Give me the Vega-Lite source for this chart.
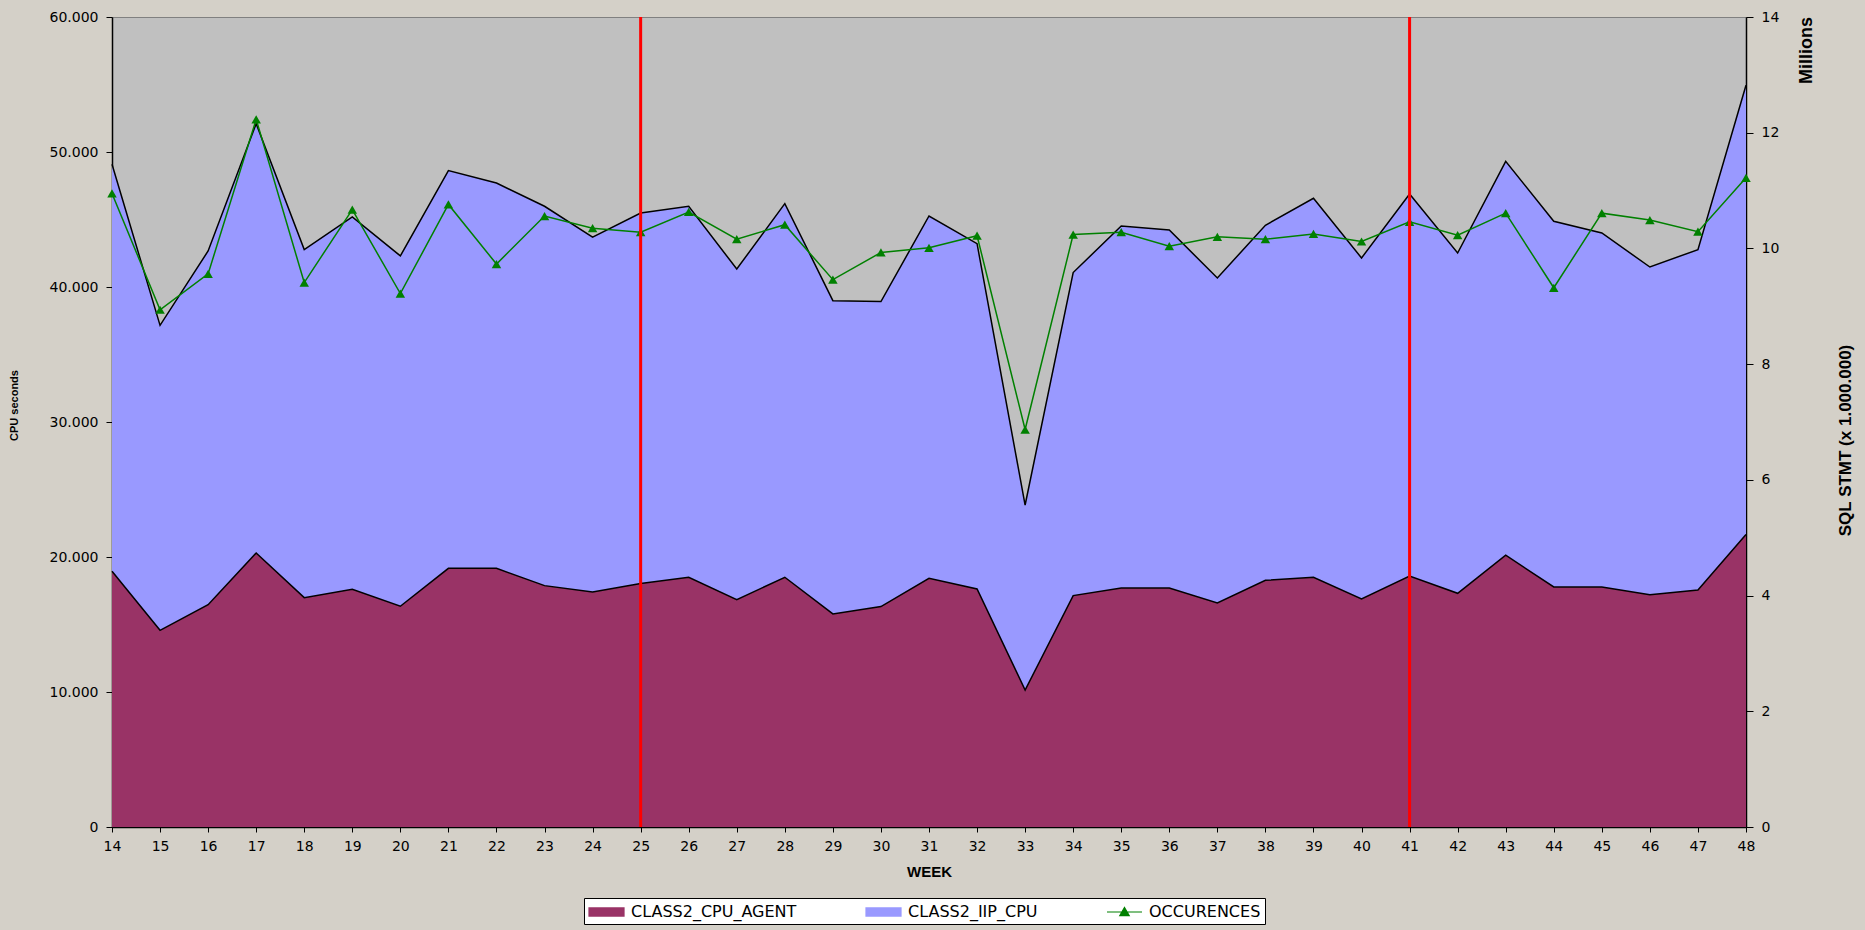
{
  "$schema": "https://vega.github.io/schema/vega-lite/v6.json",
  "width": 1634,
  "height": 810,
  "autosize": {"type": "none"},
  "padding": {"left": 112, "top": 17, "right": 119, "bottom": 103},
  "background": "#D4D0C8",
  "config": {
    "locale": {"number": {"decimal": ",", "thousands": ".", "grouping": [3], "currency": ["", ""]}},
    "view": {"fill": "#C0C0C0", "stroke": "#808080", "strokeWidth": 1},
    "axis": {"grid": false, "domainColor": "#000000", "domainWidth": 1.5, "tickColor": "#000000", "labelColor": "#000000", "labelFont": "DejaVu Sans", "labelFontSize": 14, "titleFont": "Liberation Sans", "titleFontWeight": "bold", "titleColor": "#000000"},
    "legend": {"title": null, "orient": "none", "legendX": 472, "legendY": 881, "direction": "horizontal", "fillColor": "#FFFFFF", "strokeColor": "#000000", "padding": 4,
      "labelFont": "DejaVu Sans", "labelFontSize": 16, "labelColor": "#000000", "labelOffset": 23, "labelLimit": 400, "columnPadding": 66,
      "symbolSize": 324, "symbolType": "M-1,-0.45H2.89V0.45H-1Z", "symbolStrokeColor": "#000000", "symbolStrokeWidth": 1.2}
  },
  "title": {"text": "Millions", "orient": "right", "anchor": "start", "frame": "group", "angle": 270, "align": "right", "baseline": "middle", "offset": -65, "font": "Liberation Sans", "fontSize": 18, "fontWeight": "bold", "color": "#000000"},
  "datasets": {
    "main": [
      {"WEEK": 14, "CLASS2_CPU_AGENT": 18940, "CLASS2_IIP_CPU": 30150, "OCCURENCES": 10.95},
      {"WEEK": 15, "CLASS2_CPU_AGENT": 14570, "CLASS2_IIP_CPU": 22590, "OCCURENCES": 8.94},
      {"WEEK": 16, "CLASS2_CPU_AGENT": 16470, "CLASS2_IIP_CPU": 26200, "OCCURENCES": 9.56},
      {"WEEK": 17, "CLASS2_CPU_AGENT": 20300, "CLASS2_IIP_CPU": 31800, "OCCURENCES": 12.23},
      {"WEEK": 18, "CLASS2_CPU_AGENT": 16990, "CLASS2_IIP_CPU": 25780, "OCCURENCES": 9.41},
      {"WEEK": 19, "CLASS2_CPU_AGENT": 17610, "CLASS2_IIP_CPU": 27580, "OCCURENCES": 10.67},
      {"WEEK": 20, "CLASS2_CPU_AGENT": 16350, "CLASS2_IIP_CPU": 25950, "OCCURENCES": 9.22},
      {"WEEK": 21, "CLASS2_CPU_AGENT": 19160, "CLASS2_IIP_CPU": 29460, "OCCURENCES": 10.76},
      {"WEEK": 22, "CLASS2_CPU_AGENT": 19160, "CLASS2_IIP_CPU": 28540, "OCCURENCES": 9.73},
      {"WEEK": 23, "CLASS2_CPU_AGENT": 17880, "CLASS2_IIP_CPU": 28100, "OCCURENCES": 10.56},
      {"WEEK": 24, "CLASS2_CPU_AGENT": 17410, "CLASS2_IIP_CPU": 26290, "OCCURENCES": 10.35},
      {"WEEK": 25, "CLASS2_CPU_AGENT": 18030, "CLASS2_IIP_CPU": 27450, "OCCURENCES": 10.28},
      {"WEEK": 26, "CLASS2_CPU_AGENT": 18500, "CLASS2_IIP_CPU": 27480, "OCCURENCES": 10.63},
      {"WEEK": 27, "CLASS2_CPU_AGENT": 16840, "CLASS2_IIP_CPU": 24490, "OCCURENCES": 10.16},
      {"WEEK": 28, "CLASS2_CPU_AGENT": 18500, "CLASS2_IIP_CPU": 27680, "OCCURENCES": 10.41},
      {"WEEK": 29, "CLASS2_CPU_AGENT": 15780, "CLASS2_IIP_CPU": 23210, "OCCURENCES": 9.46},
      {"WEEK": 30, "CLASS2_CPU_AGENT": 16330, "CLASS2_IIP_CPU": 22590, "OCCURENCES": 9.93},
      {"WEEK": 31, "CLASS2_CPU_AGENT": 18420, "CLASS2_IIP_CPU": 26840, "OCCURENCES": 10.01},
      {"WEEK": 32, "CLASS2_CPU_AGENT": 17630, "CLASS2_IIP_CPU": 25580, "OCCURENCES": 10.22},
      {"WEEK": 33, "CLASS2_CPU_AGENT": 10150, "CLASS2_IIP_CPU": 13700, "OCCURENCES": 6.87},
      {"WEEK": 34, "CLASS2_CPU_AGENT": 17140, "CLASS2_IIP_CPU": 23930, "OCCURENCES": 10.24},
      {"WEEK": 35, "CLASS2_CPU_AGENT": 17700, "CLASS2_IIP_CPU": 26820, "OCCURENCES": 10.28},
      {"WEEK": 36, "CLASS2_CPU_AGENT": 17700, "CLASS2_IIP_CPU": 26520, "OCCURENCES": 10.04},
      {"WEEK": 37, "CLASS2_CPU_AGENT": 16590, "CLASS2_IIP_CPU": 24080, "OCCURENCES": 10.2},
      {"WEEK": 38, "CLASS2_CPU_AGENT": 18270, "CLASS2_IIP_CPU": 26300, "OCCURENCES": 10.16},
      {"WEEK": 39, "CLASS2_CPU_AGENT": 18500, "CLASS2_IIP_CPU": 28070, "OCCURENCES": 10.25},
      {"WEEK": 40, "CLASS2_CPU_AGENT": 16890, "CLASS2_IIP_CPU": 25260, "OCCURENCES": 10.12},
      {"WEEK": 41, "CLASS2_CPU_AGENT": 18590, "CLASS2_IIP_CPU": 28300, "OCCURENCES": 10.46},
      {"WEEK": 42, "CLASS2_CPU_AGENT": 17310, "CLASS2_IIP_CPU": 25210, "OCCURENCES": 10.23},
      {"WEEK": 43, "CLASS2_CPU_AGENT": 20130, "CLASS2_IIP_CPU": 29180, "OCCURENCES": 10.61},
      {"WEEK": 44, "CLASS2_CPU_AGENT": 17780, "CLASS2_IIP_CPU": 27090, "OCCURENCES": 9.32},
      {"WEEK": 45, "CLASS2_CPU_AGENT": 17780, "CLASS2_IIP_CPU": 26220, "OCCURENCES": 10.61},
      {"WEEK": 46, "CLASS2_CPU_AGENT": 17210, "CLASS2_IIP_CPU": 24270, "OCCURENCES": 10.49},
      {"WEEK": 47, "CLASS2_CPU_AGENT": 17560, "CLASS2_IIP_CPU": 25210, "OCCURENCES": 10.29},
      {"WEEK": 48, "CLASS2_CPU_AGENT": 21660, "CLASS2_IIP_CPU": 33280, "OCCURENCES": 11.22}
    ],
    "marks": [{"WEEK": 25}, {"WEEK": 41}]
  },
  "layer": [
    {
      "data": {"name": "main"},
      "transform": [
        {"fold": ["CLASS2_CPU_AGENT", "CLASS2_IIP_CPU"], "as": ["series", "cpu"]},
        {"stack": "cpu", "groupby": ["WEEK"], "sort": [{"field": "series", "order": "ascending"}], "offset": "zero", "as": ["cpu0", "cpu1"]}
      ],
      "encoding": {
        "x": {"field": "WEEK", "type": "quantitative", "scale": {"domain": [14, 48], "nice": false, "zero": false},
          "axis": {"values": [14,15,16,17,18,19,20,21,22,23,24,25,26,27,28,29,30,31,32,33,34,35,36,37,38,39,40,41,42,43,44,45,46,47,48], "format": "d", "title": "WEEK", "titleFontSize": 15, "titlePadding": 11, "tickSize": 5, "labelPadding": 7, "labelFlush": false, "labelOverlap": false}},
        "y": {"field": "cpu1", "type": "quantitative", "scale": {"domain": [0, 60000], "nice": false},
          "axis": {"orient": "left", "values": [0, 10000, 20000, 30000, 40000, 50000, 60000], "format": ",d", "title": "CPU seconds", "titleFontSize": 11, "titleY": 388, "titlePadding": 30, "tickSize": 6, "labelPadding": 8}}
      },
      "layer": [
        {
          "mark": {"type": "area", "opacity": 1},
          "encoding": {
            "y2": {"field": "cpu0"},
            "color": {"field": "series", "type": "nominal",
              "scale": {"domain": ["CLASS2_CPU_AGENT", "CLASS2_IIP_CPU", "OCCURENCES"], "range": ["#993366", "#9999FF", "#008000"]},
              "legend": {
                "encode": {"symbols": {"update": {
                  "shape": {"signal": "datum.value === 'OCCURENCES' ? 'M-1,0H2.89M0.945,-0.5L1.47,0.4H0.42Z' : 'M-1,-0.45H2.89V0.45H-1Z'"},
                  "stroke": {"signal": "datum.value === 'OCCURENCES' ? '#008000' : '#000000'"},
                  "strokeWidth": {"value": 1.2},
                  "fill": {"signal": "scale('color', datum.value)"},
                  "opacity": {"value": 1}
                }}}}}
          }
        },
        {
          "mark": {"type": "line", "color": "#000000", "strokeWidth": 1.5},
          "encoding": {"detail": {"field": "series", "type": "nominal"}}
        }
      ]
    },
    {
      "data": {"name": "main"},
      "mark": {"type": "line", "strokeWidth": 1.5, "point": {"shape": "triangle-up", "filled": true, "size": 90, "color": "#008000", "opacity": 1}},
      "encoding": {
        "x": {"field": "WEEK", "type": "quantitative"},
        "y": {"field": "OCCURENCES", "type": "quantitative", "scale": {"domain": [0, 14], "nice": false},
          "axis": {"orient": "right", "values": [0, 2, 4, 6, 8, 10, 12, 14], "format": "d", "title": "SQL STMT (x 1.000.000)", "titleAngle": 270, "titleFontSize": 17, "titleY": 423, "titlePadding": 76, "tickSize": 7, "labelPadding": 8}},
        "color": {"datum": "OCCURENCES",
          "legend": {
            "encode": {"symbols": {"update": {
              "shape": {"signal": "datum.value === 'OCCURENCES' ? 'M-1,0H2.89M0.945,-0.5L1.47,0.4H0.42Z' : 'M-1,-0.45H2.89V0.45H-1Z'"},
              "stroke": {"signal": "datum.value === 'OCCURENCES' ? '#008000' : '#000000'"},
              "strokeWidth": {"value": 1.2},
              "fill": {"signal": "scale('color', datum.value)"},
              "opacity": {"value": 1}
            }}}}}
      }
    },
    {
      "data": {"name": "marks"},
      "mark": {"type": "rule", "color": "#FF0000", "strokeWidth": 3},
      "encoding": {"x": {"field": "WEEK", "type": "quantitative"}}
    }
  ],
  "resolve": {"scale": {"y": "independent"}}
}
